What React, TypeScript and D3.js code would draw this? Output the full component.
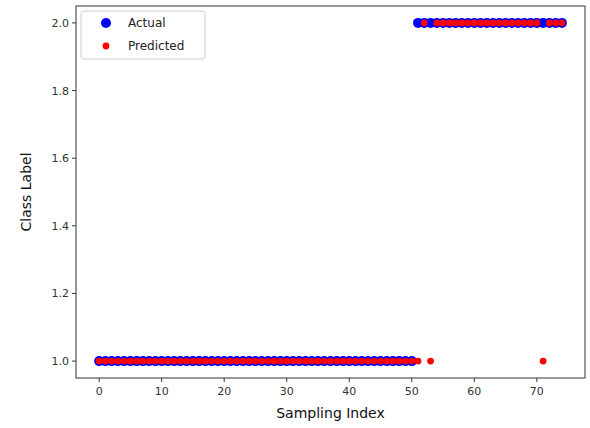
import React from "react";
import * as d3 from "d3";

const actualIdx: number[] = d3.range(0, 75);
const actualVals: number[] = actualIdx.map((i) => (i <= 50 ? 1 : 2));
const predictedOnes: number[] = [51, 53, 71];
const predictedVals: number[] = actualIdx.map((i) =>
  i <= 50 || predictedOnes.includes(i) ? 1 : 2
);
const xTicks = [0, 10, 20, 30, 40, 50, 60, 70];
const yTicks = [1.0, 1.2, 1.4, 1.6, 1.8, 2.0];

export default function App() {
  const W = 590, H = 428;
  const L = 76, R = 585, T = 6, B = 378;
  const x = d3.scaleLinear().domain([-3.7, 77.7]).range([L, R]);
  const y = d3.scaleLinear().domain([0.95, 2.05]).range([B, T]);
  const font = "DejaVu Sans, sans-serif";
  return (
    <svg width={W} height={H} style={{ position: "absolute", left: 0, top: 0, background: "#fff" }}>
      <rect x={0} y={0} width={W} height={H} fill="#fff" />
      {actualIdx.map((i) => (
        <circle key={"a" + i} cx={x(i)} cy={y(actualVals[i])} r={5} fill="#0000ff" />
      ))}
      {actualIdx.map((i) => (
        <circle key={"p" + i} cx={x(i)} cy={y(predictedVals[i])} r={3.4} fill="#ff0000" />
      ))}
      <rect x={L} y={T} width={R - L} height={B - T} fill="none" stroke="#333" strokeWidth={1} />
      {xTicks.map((t) => (
        <g key={"xt" + t}>
          <line x1={x(t)} x2={x(t)} y1={B} y2={B + 4} stroke="#333" />
          <text x={x(t)} y={B + 17} textAnchor="middle" fontFamily={font} fontSize={11} fill="#333">
            {t}
          </text>
        </g>
      ))}
      {yTicks.map((t) => (
        <g key={"yt" + t}>
          <line x1={L - 4} x2={L} y1={y(t)} y2={y(t)} stroke="#333" />
          <text x={L - 7} y={y(t) + 4} textAnchor="end" fontFamily={font} fontSize={11} fill="#333">
            {t.toFixed(1)}
          </text>
        </g>
      ))}
      <text x={(L + R) / 2} y={418} textAnchor="middle" fontFamily={font} fontSize={14} fill="#111">
        Sampling Index
      </text>
      <text
        transform={`translate(31,${(T + B) / 2}) rotate(-90)`}
        textAnchor="middle"
        fontFamily={font}
        fontSize={14}
        fill="#111"
      >
        Class Label
      </text>
      <g>
        <rect x={81} y={11} width={124} height={48} rx={3} fill="#fff" stroke="#ccc" />
        <circle cx={106} cy={23} r={5} fill="#0000ff" />
        <circle cx={106} cy={46} r={3.4} fill="#ff0000" />
        <text x={128} y={27} fontFamily={font} fontSize={12} fill="#222">Actual</text>
        <text x={128} y={50} fontFamily={font} fontSize={12} fill="#222">Predicted</text>
      </g>
    </svg>
  );
}
